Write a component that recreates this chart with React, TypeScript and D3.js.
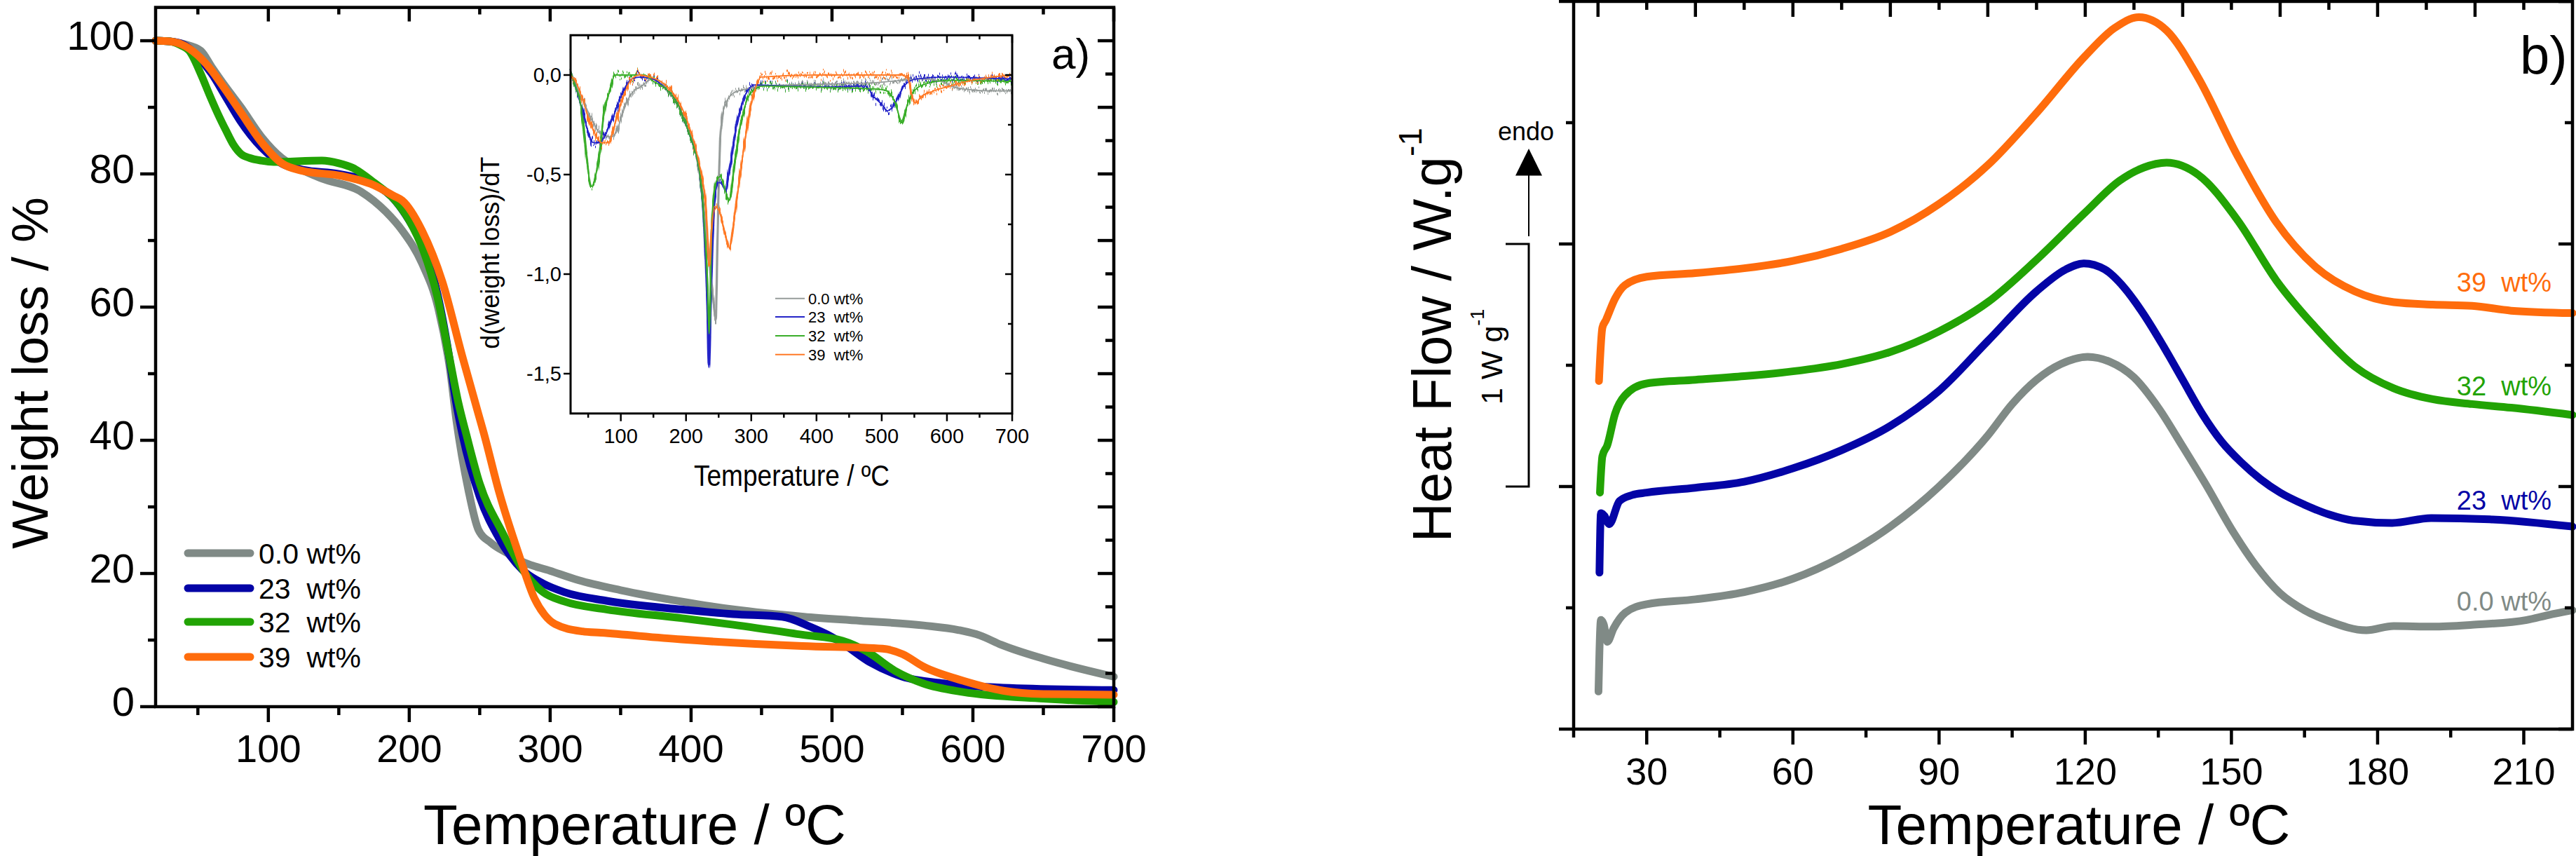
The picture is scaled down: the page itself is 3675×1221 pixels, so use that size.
import React from "react";
import * as d3 from "d3";

type P = [number, number];

// ---------------- DATA ----------------
const seriesNames = ["0.0 wt%", "23  wt%", "32  wt%", "39  wt%"];
const seriesColors = ["#808a86", "#0404a6", "#22a304", "#ff6c0c"];
const insetColors = ["#969c9a", "#2424c8", "#3aae2a", "#ff7a26"];

// TGA weight loss (%) vs temperature (ºC)
const tga00: P[] = [[20,100],[30,99.9],[40,99.5],[52,98.5],[60,96],[70,93],[80.6,90],[95,85.6],[109.5,82.4],[120,81],[138,79.3],[166,77.3],[183.5,74.3],[195,71.5],[209,66.6],[220.6,59.8],[229,50.5],[233.5,42.9],[242,32.5],[249,26.6],[258,24.6],[270,23],[280,21.8],[300,20.4],[320,19],[350,17.5],[393,15.8],[430,14.6],[480,13.5],[520,12.9],[565,12.2],[590,11.5],[605,10.7],[620,9.3],[650,7.2],[700,4.5]];
const tga23: P[] = [[20,100],[30,99.9],[40,99.4],[50,97.6],[60,95],[70,91.5],[80,88],[95,84],[110,81.5],[125,80.6],[150,80],[175,78.5],[190,76],[200,73],[210,69],[220,62],[228,53],[233,46],[237.8,40.8],[250,31.5],[263.4,25.4],[280.5,20.5],[295,18.5],[310,17.2],[340,15.9],[393,14.6],[430,13.9],[464.6,13.5],[484.6,12],[497,10.8],[507.5,9.5],[527.5,6.6],[550,4.5],[579,3.5],[621.5,2.85],[700,2.5]];
const tga32: P[] = [[20,100],[30,99.9],[38,99.3],[43.8,98.5],[52.3,94.9],[58,92],[63.8,89.2],[70,86.5],[75.2,84.4],[80.6,83],[86.6,82.4],[95,82],[103.8,81.8],[138,82],[150,81.6],[160,80.9],[175,78.7],[190,76],[200,73],[210,68.5],[220,61.5],[228,53],[235,45.5],[240.6,40.8],[250,33.5],[266,26.2],[283,19.8],[295,17.2],[310,15.8],[340,14.6],[393,13.3],[430,12.3],[479,10.8],[507.5,9.9],[524.7,8.3],[544.6,5.4],[564.6,3.5],[593,2.2],[650,1.2],[700,0.7]];
const tga39: P[] = [[20,100],[30,99.9],[38,99.5],[50,97.8],[58,96],[70,92.5],[80.6,89.2],[95,84.8],[109.5,81.6],[123.5,80.5],[152,79.7],[175,78.3],[189,76.7],[195,76],[209,71.5],[223.5,63.8],[237.8,52.5],[249,44],[253,41],[263.4,32.5],[277.7,22.9],[289,16.2],[296,13.8],[303.4,12.4],[323,11.3],[336,11.1],[393,10.1],[479,9.1],[536,8.7],[550,7.9],[565,6.0],[593,3.9],[621.5,2.4],[650,1.9],[700,1.8]];

// Inset: d(weight loss)/dT vs temperature
const dtg00: P[] = [[23,0.02],[30,-0.04],[45,-0.15],[55,-0.22],[64.6,-0.28],[77.6,-0.31],[86,-0.31],[94,-0.28],[102,-0.2],[110,-0.13],[120,-0.08],[130,-0.06],[149,-0.02],[160,-0.03],[169,-0.07],[188,-0.15],[201,-0.26],[214.5,-0.385],[221,-0.51],[231,-0.795],[240.5,-1.09],[245.5,-1.24],[248.4,-0.8],[252.3,-0.33],[256,-0.2],[260,-0.15],[273,-0.09],[293,-0.07],[319,-0.055],[360,-0.05],[420,-0.045],[480,-0.04],[520,-0.03],[560,-0.02],[590,-0.03],[610,-0.06],[640,-0.075],[670,-0.08],[700,-0.08]];
const dtg23: P[] = [[23,0.02],[32,-0.07],[45,-0.23],[58,-0.34],[68,-0.34],[77.6,-0.29],[90.7,-0.19],[103.7,-0.08],[116.7,-0.02],[130,-0.01],[149,-0.02],[169,-0.07],[188,-0.15],[201,-0.26],[214.5,-0.39],[220,-0.47],[227.5,-0.74],[232.7,-1.15],[235,-1.47],[238.6,-1.05],[243.8,-0.62],[250.3,-0.54],[256,-0.55],[260,-0.58],[266.6,-0.47],[276.4,-0.27],[289.4,-0.11],[305.7,-0.05],[350,-0.055],[420,-0.06],[475,-0.055],[488,-0.11],[501,-0.15],[508,-0.18],[514,-0.17],[524,-0.12],[534,-0.055],[553,-0.02],[600,-0.01],[650,-0.015],[700,-0.02]];
const dtg32: P[] = [[23,0.02],[30,-0.05],[38.5,-0.15],[44,-0.3],[48.3,-0.44],[54.8,-0.56],[58,-0.55],[61.3,-0.51],[67.8,-0.385],[74.4,-0.19],[84,-0.07],[90.7,0],[110,0],[136,0],[149,-0.03],[169,-0.07],[188,-0.15],[201,-0.26],[214.5,-0.39],[220,-0.47],[227.5,-0.72],[232.7,-1.05],[235.3,-1.3],[237,-1.2],[239.2,-0.8],[245.8,-0.54],[252.3,-0.51],[260,-0.58],[266.6,-0.63],[274.4,-0.44],[286.2,-0.21],[299.2,-0.09],[318.8,-0.055],[380,-0.06],[440,-0.065],[490,-0.07],[507.7,-0.08],[520.8,-0.14],[530.6,-0.23],[537,-0.17],[547,-0.09],[566.4,-0.045],[605.5,-0.027],[700,-0.033]];
const dtg39: P[] = [[23,0.0],[32,-0.04],[45,-0.16],[58,-0.28],[71,-0.34],[80.9,-0.34],[90.7,-0.25],[103.7,-0.11],[116.7,-0.02],[129.8,0],[142.8,-0.01],[160,-0.03],[175,-0.07],[190,-0.14],[205,-0.26],[214,-0.36],[221,-0.46],[230.8,-0.68],[234.5,-0.93],[236.5,-0.96],[239,-0.8],[243.8,-0.66],[250.3,-0.68],[260,-0.8],[266.6,-0.87],[273.1,-0.74],[282.9,-0.5],[292.7,-0.28],[302.5,-0.11],[315.5,-0.01],[400,0],[530,0],[540.3,-0.02],[547,-0.11],[552,-0.14],[560,-0.11],[579.5,-0.08],[605.5,-0.055],[638,-0.027],[670.7,-0.01],[700,0]];

// DSC heat flow (offset curves, in axis tick units) vs temperature
const dsc00: P[] = [[20.1,0.31],[20.6,0.9],[21.2,0.86],[21.9,0.72],[23.2,0.83],[25.6,0.96],[30,1.03],[40,1.07],[50,1.13],[60,1.24],[70,1.42],[80,1.67],[90,2.0],[100,2.42],[105,2.68],[110,2.88],[115,3.01],[120.5,3.07],[125,3.03],[130,2.9],[135,2.65],[140,2.33],[145,2.0],[150,1.65],[155,1.35],[160,1.12],[165,0.98],[170,0.89],[177.7,0.815],[183.3,0.85],[191.3,0.845],[199.4,0.86],[210.6,0.9],[215,0.94],[220,0.98]];
const dsc23: P[] = [[20.3,1.29],[20.6,1.78],[21.3,1.76],[22.3,1.69],[24.4,1.88],[27,1.93],[30,1.95],[40,1.99],[50,2.04],[60,2.15],[70,2.3],[80,2.5],[90,2.79],[100,3.2],[110,3.61],[116,3.79],[119.7,3.84],[124,3.79],[128,3.64],[132,3.42],[136,3.16],[140,2.88],[144,2.6],[148,2.37],[152,2.2],[156,2.06],[160,1.95],[165,1.85],[170,1.77],[175,1.72],[183,1.7],[191,1.74],[203,1.73],[220,1.67]];
const dsc32: P[] = [[20.4,1.95],[20.9,2.25],[21.9,2.34],[23.5,2.6],[25.5,2.75],[30,2.85],[40,2.88],[50,2.91],[60,2.95],[70,3.01],[80,3.11],[90,3.28],[100,3.52],[110,3.87],[120,4.26],[127,4.52],[132,4.63],[136.7,4.67],[143.2,4.57],[151.2,4.2],[159.2,3.7],[167.3,3.31],[175.3,2.99],[183.3,2.81],[191.3,2.72],[199.4,2.68],[207.4,2.65],[220,2.59]];
const dsc39: P[] = [[20.2,2.87],[20.9,3.31],[21.6,3.37],[23.5,3.55],[25.5,3.66],[30,3.73],[40,3.76],[50,3.8],[60,3.86],[70,3.96],[80,4.1],[90,4.33],[100,4.65],[110,5.08],[120,5.55],[126,5.78],[131,5.87],[136.7,5.76],[143.2,5.37],[151.2,4.73],[159.2,4.18],[167.3,3.81],[175.3,3.61],[183.3,3.52],[191.3,3.5],[199.4,3.49],[207.4,3.45],[220,3.43]];

// ticks
const tgaXMajor = [100, 200, 300, 400, 500, 600, 700];
const tgaXMinor = [50, 150, 250, 350, 450, 550, 650];
const tgaYMajor = [0, 20, 40, 60, 80, 100];
const tgaYMinor = [10, 30, 50, 70, 90];
const tgaRightMajor = [0, 10, 20, 30, 40, 50, 60, 70, 80, 90, 100];
const tgaRightMinor = [5, 15, 25, 35, 45, 55, 65, 75, 85, 95];
const insXMajor = [100, 200, 300, 400, 500, 600, 700];
const insXMinor = [50, 150, 250, 350, 450, 550, 650];
const insYMajor = [0, -0.5, -1, -1.5];
const insYLabels = ["0,0", "-0,5", "-1,0", "-1,5"];
const insYMinor = [-0.25, -0.75, -1.25];
const dscXMajor = [30, 60, 90, 120, 150, 180, 210];
const dscXMinor = [15, 45, 75, 105, 135, 165, 195];
const dscTopMajor = [20, 40, 60, 80, 100, 120, 140, 160, 180, 200];
const dscTopMinor = [30, 50, 70, 90, 110, 130, 150, 170, 190, 210];
const dscYMajor = [0, 2, 4, 6];
const dscYMinor = [1, 3, 5];

const SANS = "'Liberation Sans', Arial, Helvetica, sans-serif";
const NARROW = "'Liberation Sans Narrow', 'Arial Narrow', 'Liberation Sans', sans-serif";

export default function App() {
  // scales
  const xA = d3.scaleLinear().domain([20, 700]).range([222, 1589]);
  const yA = d3.scaleLinear().domain([0, 105]).range([1008, 10.6]);
  const xI = d3.scaleLinear().domain([23, 700]).range([814, 1444]);
  const yI = d3.scaleLinear().domain([-1.7, 0.2]).range([589.8, 50.2]);
  const xB = d3.scaleLinear().domain([15, 220]).range([2245, 3670]);
  const yB = d3.scaleLinear().domain([0, 6]).range([1040, 2]);

  const lineA = d3.line<P>().x(d => xA(d[0])).y(d => yA(d[1])).curve(d3.curveMonotoneX);
  const lineI = d3.line<P>().x(d => xI(d[0])).y(d => yI(d[1])).curve(d3.curveMonotoneX);
  const lineB = d3.line<P>().x(d => xB(d[0])).y(d => yB(d[1])).curve(d3.curveMonotoneX);

  const tga = [tga00, tga23, tga32, tga39];
  const dtg = [dtg00, dtg23, dtg32, dtg39];
  const dsc = [dsc00, dsc23, dsc32, dsc39];

  const AX = 4.5;
  const k = "#000";

  const aL = xA(20), aR = xA(700), aT = yA(105), aB = yA(0);
  const iL = xI(23), iR = xI(700), iT = yI(0.2), iB = yI(-1.7);
  const bL = xB(15), bR = xB(220), bT = yB(6), bB = yB(0);

  return (
    <svg width={3675} height={1221} viewBox="0 0 3675 1221"
      style={{ position: "absolute", left: 0, top: 0, background: "#fff" }}
      fontFamily={SANS}>
      <defs>
        <filter id="noisy" x="-2%" y="-8%" width="104%" height="116%">
          <feTurbulence type="fractalNoise" baseFrequency="0.45 0.015" numOctaves="2" seed="7" result="t" />
          <feColorMatrix in="t" type="matrix"
            values="0 0 0 0 0.5  0 1 0 0 0  0 0 1 0 0  0 0 0 0 1" result="tm" />
          <feDisplacementMap in="SourceGraphic" in2="tm" scale="26" xChannelSelector="R" yChannelSelector="G" />
        </filter>
      </defs>
      <rect x={0} y={0} width={3675} height={1221} fill="#fff" />

      {/* ================= PANEL A ================= */}
      {tga.map((s, i) => (
        <path key={"tga" + i} d={lineA(s) || ""} fill="none" stroke={seriesColors[i]}
          strokeWidth={11} strokeLinecap="round" strokeLinejoin="round" />
      ))}
      <rect x={aL} y={aT} width={aR - aL} height={aB - aT} fill="none" stroke={k} strokeWidth={AX} />
      {tgaXMajor.map(v => <line key={"abM" + v} x1={xA(v)} x2={xA(v)} y1={aB} y2={aB + 22} stroke={k} strokeWidth={AX} />)}
      {tgaXMinor.map(v => <line key={"abm" + v} x1={xA(v)} x2={xA(v)} y1={aB} y2={aB + 12} stroke={k} strokeWidth={AX} />)}
      {tgaXMajor.map(v => <line key={"atM" + v} x1={xA(v)} x2={xA(v)} y1={aT} y2={aT + 20} stroke={k} strokeWidth={AX} />)}
      {tgaXMinor.map(v => <line key={"atm" + v} x1={xA(v)} x2={xA(v)} y1={aT} y2={aT + 10} stroke={k} strokeWidth={AX} />)}
      {tgaYMajor.map(v => <line key={"alM" + v} x1={aL - 22} x2={aL} y1={yA(v)} y2={yA(v)} stroke={k} strokeWidth={AX} />)}
      {tgaYMinor.map(v => <line key={"alm" + v} x1={aL - 11} x2={aL} y1={yA(v)} y2={yA(v)} stroke={k} strokeWidth={AX} />)}
      {tgaRightMajor.map(v => <line key={"arM" + v} x1={aR - 23} x2={aR} y1={yA(v)} y2={yA(v)} stroke={k} strokeWidth={AX} />)}
      {tgaRightMinor.map(v => <line key={"arm" + v} x1={aR - 12} x2={aR} y1={yA(v)} y2={yA(v)} stroke={k} strokeWidth={AX} />)}
      {tgaXMajor.map(v => <text key={"axl" + v} x={xA(v)} y={1087} fontSize={56} textAnchor="middle">{v}</text>)}
      {tgaYMajor.map(v => <text key={"ayl" + v} x={192} y={yA(v) + 13} fontSize={58} textAnchor="end">{v}</text>)}
      <text x={905.5} y={1204} fontSize={80} textAnchor="middle">Temperature / ºC</text>
      <text transform="translate(68,532) rotate(-90)" fontSize={73} textAnchor="middle">Weight loss / %</text>
      <text x={1500} y={98} fontSize={62}>a)</text>
      {seriesNames.map((n, i) => {
        const ly = [789, 839, 887, 937][i];
        return (
          <g key={"leg" + i}>
            <line x1={268} x2={357} y1={ly} y2={ly} stroke={seriesColors[i]} strokeWidth={11} strokeLinecap="round" />
            <text x={369} y={ly + 15} fontSize={41} style={{ whiteSpace: "pre" }}>{n}</text>
          </g>
        );
      })}

      {/* ================= INSET ================= */}
      <rect x={iL} y={iT} width={iR - iL} height={iB - iT} fill="#fff" />
      <g filter="url(#noisy)">
        {dtg.map((s, i) => (
          <path key={"dtg" + i} d={lineI(s) || ""} fill="none" stroke={insetColors[i]} strokeWidth={3.2} strokeLinejoin="round" />
        ))}
      </g>
      {dtg.map((s, i) => (
        <path key={"dtgc" + i} d={lineI(s) || ""} fill="none" stroke={insetColors[i]} strokeWidth={1.8} strokeLinejoin="round" />
      ))}
      <rect x={iL} y={iT} width={iR - iL} height={iB - iT} fill="none" stroke={k} strokeWidth={3} />
      {insXMajor.map(v => <line key={"ibM" + v} x1={xI(v)} x2={xI(v)} y1={iB} y2={iB + 11} stroke={k} strokeWidth={2.5} />)}
      {insXMinor.map(v => <line key={"ibm" + v} x1={xI(v)} x2={xI(v)} y1={iB} y2={iB + 6} stroke={k} strokeWidth={2.5} />)}
      {insXMajor.map(v => <line key={"itM" + v} x1={xI(v)} x2={xI(v)} y1={iT} y2={iT + 11} stroke={k} strokeWidth={2.5} />)}
      {insXMinor.map(v => <line key={"itm" + v} x1={xI(v)} x2={xI(v)} y1={iT} y2={iT + 6} stroke={k} strokeWidth={2.5} />)}
      {insYMajor.map(v => <line key={"ilM" + v} x1={iL - 10} x2={iL} y1={yI(v)} y2={yI(v)} stroke={k} strokeWidth={2.5} />)}
      {insYMajor.map(v => <line key={"irM" + v} x1={iR - 10} x2={iR} y1={yI(v)} y2={yI(v)} stroke={k} strokeWidth={2.5} />)}
      {insYMinor.map(v => <line key={"irm" + v} x1={iR - 6} x2={iR} y1={yI(v)} y2={yI(v)} stroke={k} strokeWidth={2.5} />)}
      {insXMajor.map(v => <text key={"ixl" + v} x={xI(v)} y={631.7} fontSize={29} fontFamily={NARROW} textAnchor="middle">{v}</text>)}
      {insYMajor.map((v, i) => <text key={"iyl" + v} x={801} y={yI(v) + 10} fontSize={29} fontFamily={NARROW} textAnchor="end">{insYLabels[i]}</text>)}
      <text x={1129.5} y={693} fontSize={42} fontFamily={NARROW} textAnchor="middle" textLength={279} lengthAdjust="spacingAndGlyphs">Temperature / ºC</text>
      <text transform="translate(712,360.7) rotate(-90)" fontSize={36} textAnchor="middle">d(weight loss)/dT</text>
      {seriesNames.map((n, i) => {
        const ly = [425.7, 452, 479, 505.7][i];
        return (
          <g key={"ileg" + i}>
            <line x1={1106} x2={1148} y1={ly} y2={ly} stroke={insetColors[i]} strokeWidth={2} />
            <text x={1153} y={ly + 8} fontSize={22} fontFamily={NARROW} style={{ whiteSpace: "pre" }}>{n}</text>
          </g>
        );
      })}

      {/* ================= PANEL B ================= */}
      {dsc.map((s, i) => (
        <path key={"dsc" + i} d={lineB(s) || ""} fill="none" stroke={seriesColors[i]}
          strokeWidth={11} strokeLinecap="round" strokeLinejoin="round" />
      ))}
      <rect x={bL} y={bT} width={bR - bL} height={bB - bT} fill="none" stroke={k} strokeWidth={AX} />
      {dscXMajor.map(v => <line key={"bbM" + v} x1={xB(v)} x2={xB(v)} y1={bB} y2={bB + 22} stroke={k} strokeWidth={AX} />)}
      {dscXMinor.map(v => <line key={"bbm" + v} x1={xB(v)} x2={xB(v)} y1={bB} y2={bB + 12} stroke={k} strokeWidth={AX} />)}
      {dscTopMajor.map(v => <line key={"btM" + v} x1={xB(v)} x2={xB(v)} y1={bT} y2={bT + 22} stroke={k} strokeWidth={AX} />)}
      {dscTopMinor.map(v => <line key={"btm" + v} x1={xB(v)} x2={xB(v)} y1={bT} y2={bT + 12} stroke={k} strokeWidth={AX} />)}
      {dscYMajor.map(v => <line key={"blM" + v} x1={bL - 21} x2={bL} y1={yB(v)} y2={yB(v)} stroke={k} strokeWidth={AX} />)}
      {dscYMinor.map(v => <line key={"blm" + v} x1={bL - 11} x2={bL} y1={yB(v)} y2={yB(v)} stroke={k} strokeWidth={AX} />)}
      {dscYMajor.map(v => <line key={"brM" + v} x1={bR - 20} x2={bR} y1={yB(v)} y2={yB(v)} stroke={k} strokeWidth={AX} />)}
      {dscYMinor.map(v => <line key={"brm" + v} x1={bR - 11} x2={bR} y1={yB(v)} y2={yB(v)} stroke={k} strokeWidth={AX} />)}
      {dscXMajor.map(v => <text key={"bxl" + v} x={xB(v)} y={1119} fontSize={54} textAnchor="middle">{v}</text>)}
      <text x={2966} y={1204} fontSize={80} textAnchor="middle">Temperature / ºC</text>
      <text transform="translate(2070,773.5) rotate(-90)" fontSize={78}>Heat Flow / W.g<tspan dy={-42} fontSize={46}>-1</tspan></text>
      <text x={3595} y={105} fontSize={76}>b)</text>
      {seriesNames.map((n, i) => (
        <text key={"bl" + i} x={3640} y={[871, 727, 564, 416][i]} fontSize={38} textAnchor="end"
          fill={seriesColors[i]} style={{ whiteSpace: "pre" }}>{n}</text>
      ))}
      {/* scale bar */}
      <path d={`M${2148},${yB(4)} H${2181} V${yB(2)} H${2148}`} fill="none" stroke={k} strokeWidth={3} />
      <text transform="translate(2142.7,577) rotate(-90)" fontSize={43} style={{ whiteSpace: "pre" }}>1 W g<tspan dy={-26} fontSize={27}>-1</tspan></text>
      {/* endo arrow */}
      <line x1={2181} x2={2181} y1={337} y2={248} stroke={k} strokeWidth={2} />
      <path d="M2181,212 L2162,250.5 L2200,250.5 Z" fill={k} />
      <text x={2177} y={199.5} fontSize={36} textAnchor="middle">endo</text>
    </svg>
  );
}
